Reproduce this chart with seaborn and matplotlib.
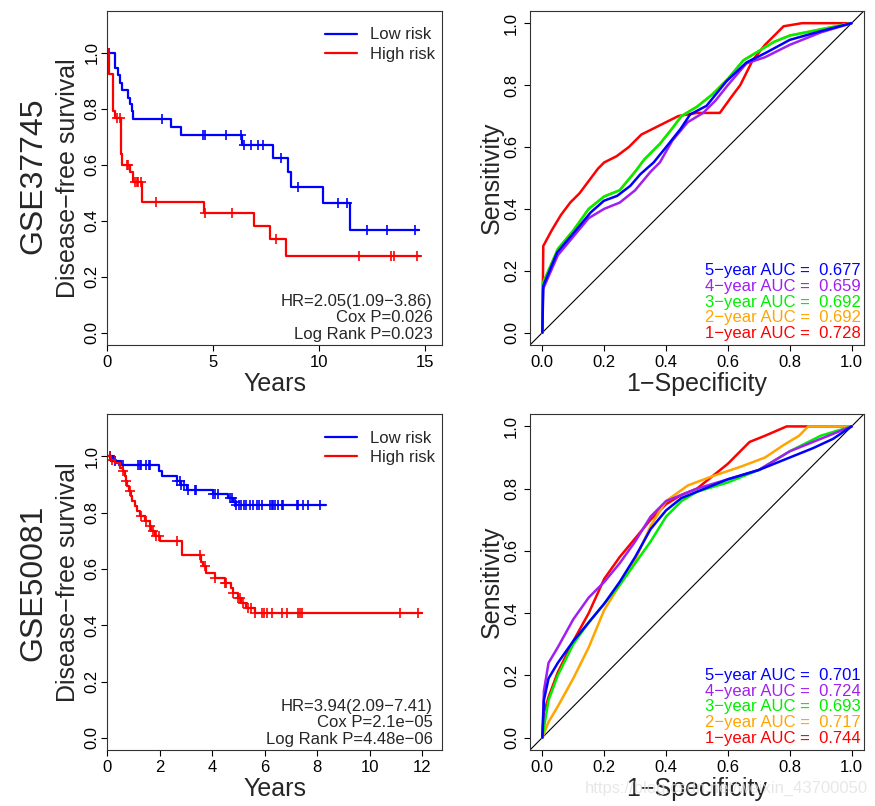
import numpy as np
import pandas as pd
import seaborn as sns
import matplotlib.pyplot as plt

# ---- GSE37745 survival (steps: time, survival) ----
t1_low = [0, 0.36, 0.50, 0.62, 0.70, 0.98, 1.09, 1.17, 1.24, 3.00, 3.47, 6.38, 7.81, 8.55, 8.66, 10.16, 11.46]
s1_low = [1.0, 0.947, 0.921, 0.893, 0.866, 0.840, 0.817, 0.793, 0.763, 0.736, 0.708, 0.672, 0.625, 0.574, 0.521, 0.464, 0.369]
end1_low = 14.7
c1_low = [0.08, 2.57, 4.54, 4.62, 5.60, 6.33, 6.45, 6.80, 7.10, 7.34, 8.20, 9.00, 10.90, 11.30, 12.24, 13.20, 14.50]

t1_high = [0, 0.11, 0.26, 0.39, 0.67, 0.73, 1.09, 1.24, 1.63, 4.59, 6.95, 7.70, 8.44]
s1_high = [1.0, 0.923, 0.793, 0.769, 0.639, 0.600, 0.574, 0.538, 0.467, 0.428, 0.381, 0.334, 0.276]
end1_high = 14.77
c1_high = [0.08, 0.47, 0.62, 0.93, 1.01, 1.32, 1.40, 1.48, 1.59, 2.30, 4.62, 5.90, 7.96, 11.90, 13.40, 13.55, 14.60]

# ---- GSE50081 survival ----
t2_low = [0, 0.23, 0.55, 1.98, 2.11, 2.66, 2.83, 3.05, 4.04, 4.61, 4.80, 4.90]
s2_low = [1.0, 0.982, 0.970, 0.949, 0.931, 0.913, 0.899, 0.881, 0.867, 0.852, 0.836, 0.826]
end2_low = 8.35
c2_low = [0.10, 0.29, 0.61, 1.18, 1.24, 1.31, 1.50, 1.60, 1.65, 2.66, 2.77, 2.83, 2.92, 3.08, 3.34, 3.40,
          4.04, 4.10, 4.23, 4.67, 4.77, 4.86, 4.92, 5.03, 5.11, 5.20, 5.30, 5.43, 5.56, 5.69, 5.79, 5.91,
          6.19, 6.26, 6.32, 6.38, 6.51, 6.64, 6.70, 7.21, 7.27, 7.46, 7.65, 8.12]

t2_high = [0, 0.16, 0.29, 0.51, 0.61, 0.67, 0.71, 0.76, 0.82, 0.90, 0.95, 1.05, 1.14, 1.24, 1.43, 1.62, 1.69,
           1.81, 2.00, 2.87, 3.59, 3.65, 3.76, 4.10, 4.48, 4.73, 4.80, 4.99, 5.11, 5.30, 5.62]
s2_high = [1.0, 0.988, 0.976, 0.958, 0.947, 0.929, 0.911, 0.893, 0.875, 0.858, 0.840, 0.822, 0.804, 0.786,
           0.769, 0.751, 0.733, 0.715, 0.698, 0.650, 0.626, 0.609, 0.585, 0.567, 0.549, 0.531, 0.514, 0.496,
           0.478, 0.460, 0.442]
end2_high = 12.0
c2_high = [0.10, 0.20, 0.61, 0.74, 0.86, 1.31, 1.50, 1.62, 1.75, 1.88, 1.98, 2.66, 3.53, 3.72, 4.10, 4.48,
           4.54, 4.80, 4.99, 5.05, 5.18, 5.37, 5.49, 5.62, 5.88, 5.96, 6.07, 6.29, 6.64, 6.83, 7.27, 7.34,
           7.40, 11.14, 11.84]

# ---- ROC curves GSE37745 (fpr, tpr) ----
roc1 = {
    "1-year": ([0, 0.003, 0.03, 0.06, 0.09, 0.12, 0.15, 0.18, 0.20, 0.24, 0.28, 0.32, 0.36, 0.40, 0.44, 0.50,
                0.574, 0.61, 0.64, 0.68, 0.72, 0.78, 0.84, 1.0],
               [0, 0.28, 0.33, 0.38, 0.42, 0.45, 0.49, 0.53, 0.55, 0.57, 0.60, 0.64, 0.66, 0.68, 0.70, 0.71,
                0.71, 0.76, 0.80, 0.88, 0.93, 0.99, 1.0, 1.0]),
    "2-year": ([0, 0.002, 0.05, 0.10, 0.15, 0.20, 0.25, 0.30, 0.33, 0.38, 0.42, 0.45, 0.50, 0.55, 0.60, 0.65,
                0.70, 0.75, 0.80, 0.90, 1.0],
               [0, 0.16, 0.27, 0.33, 0.40, 0.44, 0.46, 0.52, 0.56, 0.61, 0.66, 0.70, 0.73, 0.77, 0.82, 0.88,
                0.91, 0.94, 0.96, 0.98, 1.0]),
    "3-year": ([0, 0.002, 0.05, 0.10, 0.15, 0.20, 0.25, 0.30, 0.33, 0.38, 0.42, 0.45, 0.50, 0.55, 0.60, 0.65,
                0.70, 0.75, 0.80, 0.90, 1.0],
               [0, 0.16, 0.27, 0.33, 0.40, 0.44, 0.46, 0.52, 0.56, 0.61, 0.66, 0.70, 0.73, 0.77, 0.82, 0.88,
                0.91, 0.94, 0.96, 0.98, 1.0]),
    "4-year": ([0, 0.002, 0.05, 0.10, 0.15, 0.20, 0.25, 0.30, 0.35, 0.38, 0.42, 0.47, 0.52, 0.56, 0.60, 0.66,
                0.72, 0.80, 0.90, 1.0],
               [0, 0.14, 0.25, 0.31, 0.37, 0.40, 0.42, 0.46, 0.52, 0.55, 0.62, 0.68, 0.71, 0.75, 0.80, 0.87,
                0.89, 0.93, 0.97, 1.0]),
    "5-year": ([0, 0.003, 0.048, 0.102, 0.156, 0.199, 0.242, 0.284, 0.317, 0.360, 0.403, 0.446, 0.478, 0.531,
                0.596, 0.660, 0.724, 0.800, 0.885, 1.0],
               [0, 0.151, 0.259, 0.323, 0.388, 0.426, 0.442, 0.474, 0.512, 0.550, 0.603, 0.657, 0.705, 0.733,
                0.813, 0.873, 0.905, 0.946, 0.970, 1.0]),
}
auc1 = {"5-year": "0.677", "4-year": "0.659", "3-year": "0.692", "2-year": "0.692", "1-year": "0.728"}

# ---- ROC curves GSE50081 ----
roc2 = {
    "1-year": ([0, 0.005, 0.02, 0.05, 0.10, 0.15, 0.20, 0.25, 0.30, 0.35, 0.40, 0.45, 0.50, 0.55, 0.60, 0.64,
                0.67, 0.72, 0.79, 1.0],
               [0, 0.08, 0.13, 0.21, 0.31, 0.40, 0.51, 0.58, 0.64, 0.70, 0.75, 0.78, 0.80, 0.84, 0.88, 0.92,
                0.95, 0.97, 1.0, 1.0]),
    "2-year": ([0, 0.02, 0.05, 0.10, 0.15, 0.20, 0.25, 0.30, 0.35, 0.40, 0.47, 0.55, 0.64, 0.72, 0.78, 0.83,
                0.86, 1.0],
               [0, 0.05, 0.10, 0.19, 0.29, 0.41, 0.49, 0.57, 0.68, 0.76, 0.81, 0.84, 0.87, 0.90, 0.94, 0.97,
                1.0, 1.0]),
    "3-year": ([0, 0.005, 0.02, 0.05, 0.10, 0.15, 0.20, 0.25, 0.30, 0.35, 0.40, 0.45, 0.50, 0.60, 0.70, 0.80,
                0.90, 1.0],
               [0, 0.03, 0.12, 0.20, 0.30, 0.37, 0.43, 0.49, 0.56, 0.63, 0.71, 0.76, 0.79, 0.82, 0.86, 0.92,
                0.97, 1.0]),
    "4-year": ([0, 0.005, 0.02, 0.05, 0.10, 0.15, 0.20, 0.25, 0.30, 0.35, 0.40, 0.45, 0.50, 0.60, 0.70, 0.80,
                0.90, 1.0],
               [0, 0.15, 0.24, 0.29, 0.38, 0.45, 0.50, 0.56, 0.63, 0.71, 0.76, 0.78, 0.80, 0.83, 0.86, 0.92,
                0.96, 1.0]),
    "5-year": ([0, 0.005, 0.02, 0.05, 0.10, 0.15, 0.20, 0.25, 0.30, 0.35, 0.40, 0.45, 0.50, 0.60, 0.70, 0.80,
                0.875, 0.94, 1.0],
               [0, 0.12, 0.19, 0.24, 0.31, 0.37, 0.43, 0.50, 0.58, 0.67, 0.73, 0.77, 0.79, 0.83, 0.86, 0.90,
                0.93, 0.96, 1.0]),
}
auc2 = {"5-year": "0.701", "4-year": "0.724", "3-year": "0.693", "2-year": "0.717", "1-year": "0.744"}

roc_colors = {"1-year": "#FF0000", "2-year": "#FFA500", "3-year": "#00EE00",
              "4-year": "#A020F0", "5-year": "#0000FF"}

sns.set_style("ticks")
plt.rcParams['font.family'] = ['Liberation Sans', 'DejaVu Sans']

fig = plt.figure(figsize=(8.75, 8.06), dpi=100)


def km_panel(ax, groups, stats, xlim, xticks):
    for t, s, end, cens, col, lab in groups:
        tt = list(t) + [end]
        ss = list(s) + [s[-1]]
        df = pd.DataFrame({"time": tt, "surv": ss})
        sns.lineplot(data=df, x="time", y="surv", drawstyle="steps-post", color=col, lw=1.6,
                     estimator=None, sort=False, ax=ax, label=lab)
        idx = np.searchsorted(np.array(t), np.array(cens), side="right") - 1
        cy = np.array(s)[idx]
        sns.scatterplot(x=cens, y=cy, marker="+", s=55, color=col, linewidth=1.2, ax=ax, legend=False)
    ax.set_xlim(*xlim)
    ax.set_ylim(-0.043, 1.15)
    ax.set_xticks(xticks)
    ax.set_yticks(np.arange(0, 1.01, 0.2))
    ax.set_yticklabels([f"{v:.1f}" for v in np.arange(0, 1.01, 0.2)], rotation=90, va="center")
    ax.set_xlabel("Years", fontsize=18, labelpad=1)
    ax.set_ylabel("Disease\u2212free survival", fontsize=18, va="center")
    ax.yaxis.set_label_coords(-0.117, 0.5)
    ax.legend(loc="upper right", bbox_to_anchor=(1.0, 0.97), frameon=False, fontsize=12,
              handlelength=1.9, borderaxespad=0.0, labelspacing=0.25, handletextpad=0.8)
    ax.text(0.972, 0.01, "\n".join(stats), transform=ax.transAxes, ha="right", va="bottom",
            fontsize=12, linespacing=1.1)
    ax.tick_params(axis="y", pad=1.5)


def roc_panel(ax, roc, auc):
    ax.axline((0, 0), (1, 1), color="black", lw=0.8)
    for key in ["1-year", "2-year", "3-year", "4-year", "5-year"]:
        x, y = roc[key]
        sns.lineplot(x=x, y=y, color=roc_colors[key], lw=1.8, estimator=None, sort=False, ax=ax)
    ax.set_xlim(-0.04, 1.04)
    ax.set_ylim(-0.04, 1.04)
    ticks = np.arange(0, 1.01, 0.2)
    ax.set_xticks(ticks)
    ax.set_xticklabels([f"{v:.1f}" for v in ticks])
    ax.set_yticks(ticks)
    ax.set_yticklabels([f"{v:.1f}" for v in ticks], rotation=90, va="center")
    ax.set_xlabel("1\u2212Specificity", fontsize=18, labelpad=1)
    ax.set_ylabel("Sensitivity", fontsize=18, va="center")
    ax.yaxis.set_label_coords(-0.114, 0.5)
    for i, key in enumerate(["5-year", "4-year", "3-year", "2-year", "1-year"]):
        ax.text(0.99, 0.222 - i * 0.047, f"{key.replace('-', chr(0x2212))} AUC =  {auc[key]}",
                transform=ax.transAxes, ha="right", va="center", fontsize=12, color=roc_colors[key])
    ax.tick_params(axis="y", pad=4)


ax1 = fig.add_axes([0.1223, 0.572, 0.383, 0.4146])
ax2 = fig.add_axes([0.6057, 0.572, 0.3817, 0.4146])
ax3 = fig.add_axes([0.1223, 0.0695, 0.383, 0.4169])
ax4 = fig.add_axes([0.6057, 0.0695, 0.3817, 0.4169])

for ax in [ax1, ax2, ax3, ax4]:
    ax.tick_params(labelsize=12, length=4, width=0.8, colors="black")

km_panel(ax1, [(t1_low, s1_low, end1_low, c1_low, "#0000FF", "Low risk"),
               (t1_high, s1_high, end1_high, c1_high, "#FF0000", "High risk")],
         ["HR=2.05(1.09\u22123.86)", "Cox P=0.026", "Log Rank P=0.023"], (0, 15.8), [0, 5, 10, 15])
km_panel(ax3, [(t2_low, s2_low, end2_low, c2_low, "#0000FF", "Low risk"),
               (t2_high, s2_high, end2_high, c2_high, "#FF0000", "High risk")],
         ["HR=3.94(2.09\u22127.41)", "Cox P=2.1e\u221205", "Log Rank P=4.48e\u221206"], (0, 12.75),
         [0, 2, 4, 6, 8, 10, 12])
roc_panel(ax2, roc1, auc1)
roc_panel(ax4, roc2, auc2)

for ax in [ax1, ax2, ax3, ax4]:
    for sp in ax.spines.values():
        sp.set_visible(True)
        sp.set_linewidth(0.8)
        sp.set_color("#333333")

fig.text(0.038, 0.782, "GSE37745", rotation=90, ha="center", va="center", fontsize=23)
fig.text(0.038, 0.277, "GSE50081", rotation=90, ha="center", va="center", fontsize=23)
fig.text(0.83, 0.022, "https://blog.csdn.net/weixin_43700050", ha="center", va="center",
         fontsize=12, color="#e2e2e2", alpha=0.8, zorder=0)

fig.savefig("out.png", dpi=100)
